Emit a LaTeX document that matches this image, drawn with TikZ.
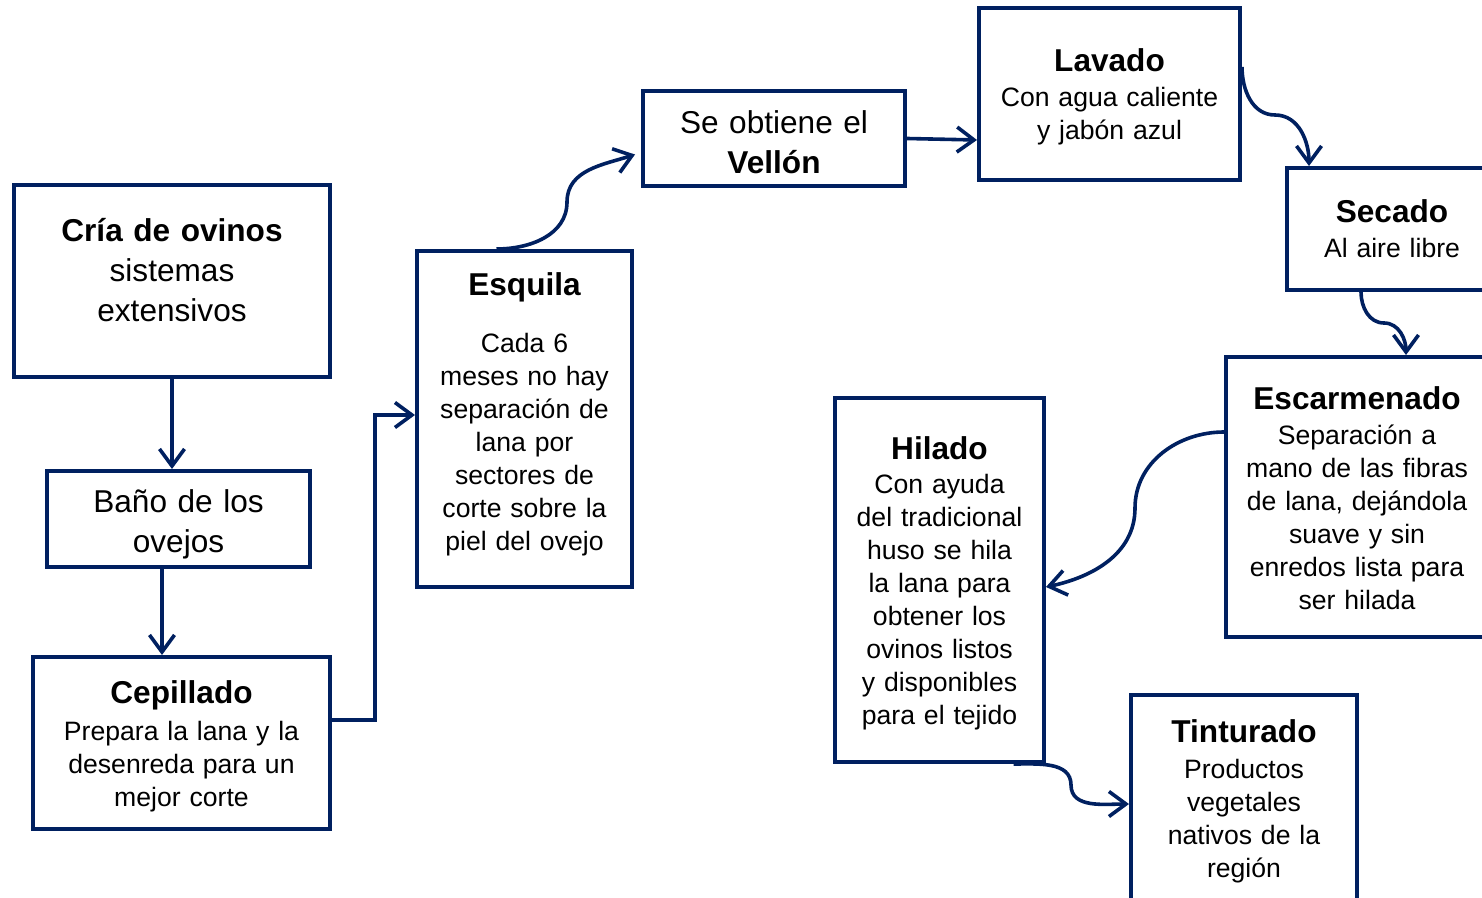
\documentclass[tikz,border=0pt]{standalone}
\usepackage{fontspec}
\setmainfont{Liberation Sans}
\usetikzlibrary{arrows.meta}
\definecolor{azul}{HTML}{002060}
\newcommand{\grande}{\fontsize{15.8}{20}\selectfont}
\newcommand{\cuerpo}{\fontsize{13.3}{16.5}\selectfont}
\tikzset{
  paso/.style={draw=azul, line width=2pt, inner sep=0pt, align=center, font=\cuerpo},
  flecha/.style={->, draw=azul, line width=1.8pt}
}

\begin{document}
\begin{tikzpicture}[x=0.5pt,y=0.5pt,>={Straight Barb[length=8.5pt,width=12.5pt]}]
\useasboundingbox (0,0) rectangle (1482,-898);
\clip (0,0) rectangle (1482,-898);

        \node[paso, font=\grande, text width=150pt, minimum width=158pt, minimum height=96pt] (cria) at (172,-281) {\textbf{Cría de ovinos}\\ sistemas\\ extensivos\\[-9pt]\mbox{}};
        \node[paso, font=\grande, text width=125pt, minimum width=131.5pt, minimum height=48pt] (bano) at (178.5,-519) {\rule{0pt}{16.5pt}Baño de los\\ ovejos};
        \node[paso, text width=140pt, minimum width=148.5pt, minimum height=86pt] (cepi) at (181.5,-743) {\rule{0pt}{14.5pt}{\grande\bfseries Cepillado}\\[2pt] Prepara la lana y la\\ desenreda para un\\ mejor corte};
        \node[paso, text width=100pt, minimum width=107.5pt, minimum height=168pt] (esq) at (524.5,-419) {{\grande\bfseries Esquila}\\[12pt] Cada 6\\ meses no hay\\ separación de\\ lana por\\ sectores de\\ corte sobre la\\ piel del ovejo\\[-9.5pt]\mbox{}};
        \node[paso, font=\grande, text width=125pt, minimum width=131pt, minimum height=47.5pt] (vell) at (774,-138.5) {\rule{0pt}{15.5pt}Se obtiene el\\ \textbf{Vellón}};
        \node[paso, text width=124pt, minimum width=130.5pt, minimum height=86pt] (lav) at (1109.5,-94) {\rule{0pt}{14pt}{\grande\bfseries Lavado}\\[1pt] Con agua caliente\\ y jabón azul};
        \node[paso, text width=98pt, minimum width=105pt, minimum height=61pt] (sec) at (1392,-229) {{\grande\bfseries Secado}\\[1pt] Al aire libre};
        \node[paso, text width=124pt, minimum width=131pt, minimum height=140pt] (esc) at (1357,-497) {\rule{0pt}{13pt}{\grande\bfseries Escarmenado}\\[1pt] Separación a\\ mano de las fibras\\ de lana, dejándola\\ suave y sin\\ enredos lista para\\ ser hilada};
        \node[paso, text width=98pt, minimum width=104.5pt, minimum height=182pt] (hil) at (939.5,-580) {\rule{0pt}{15pt}{\grande\bfseries Hilado}\\[0.5pt] Con ayuda\\ del tradicional\\ huso se hila\\ la lana para\\ obtener los\\ ovinos listos\\ y disponibles\\ para el tejido};
        \node[paso, text width=106pt, minimum width=113pt, minimum height=104pt] (tin) at (1244,-799) {\rule{0pt}{14pt}{\grande\bfseries Tinturado}\\[1.5pt] Productos\\ vegetales\\ nativos de la\\ región};

        \coordinate (c1) at (567,-202);
        \coordinate (c2) at (1275,-115);
        \coordinate (c3) at (1384,-323);
        \coordinate (c4) at (1135,-508);
        \coordinate (c5) at (1071,-785);

        \draw[flecha] (cria.south) -- (cria.south |- bano.north);
        \draw[flecha] ([xshift=-8.25pt]bano.south) -- ([xshift=-8.25pt]bano.south |- cepi.north);
        \draw[flecha] ([yshift=11.5pt]cepi.east) -- ++(21.5pt,0) |- ([yshift=2pt]esq.west);
        \draw[flecha] ([xshift=-14pt]esq.north) to[out=0,in=-90] (c1) to[out=90,in=198] ([xshift=-3pt,yshift=-8pt]vell.west);
        \draw[flecha] (vell.east) -- ([yshift=-23pt]lav.west);
        \draw[flecha] ([yshift=13.5pt]lav.east) to[out=-90,in=180] (c2) to[out=0,in=90] ([xshift=-41.5pt]sec.north);
        \draw[flecha] ([xshift=-15.5pt]sec.south) to[out=-90,in=180] (c3) to[out=0,in=90] ([xshift=24.5pt]esc.north);
        \draw[flecha] ([yshift=32.5pt]esc.west) to[out=180,in=90] (c4) to[out=-90,in=12] ([yshift=-3.5pt]hil.east);
        \draw[flecha] ([xshift=37pt]hil.south) to[out=0,in=90] (c5) to[out=-90,in=180] ([yshift=-2.5pt]tin.west);
\end{tikzpicture}
\end{document}
